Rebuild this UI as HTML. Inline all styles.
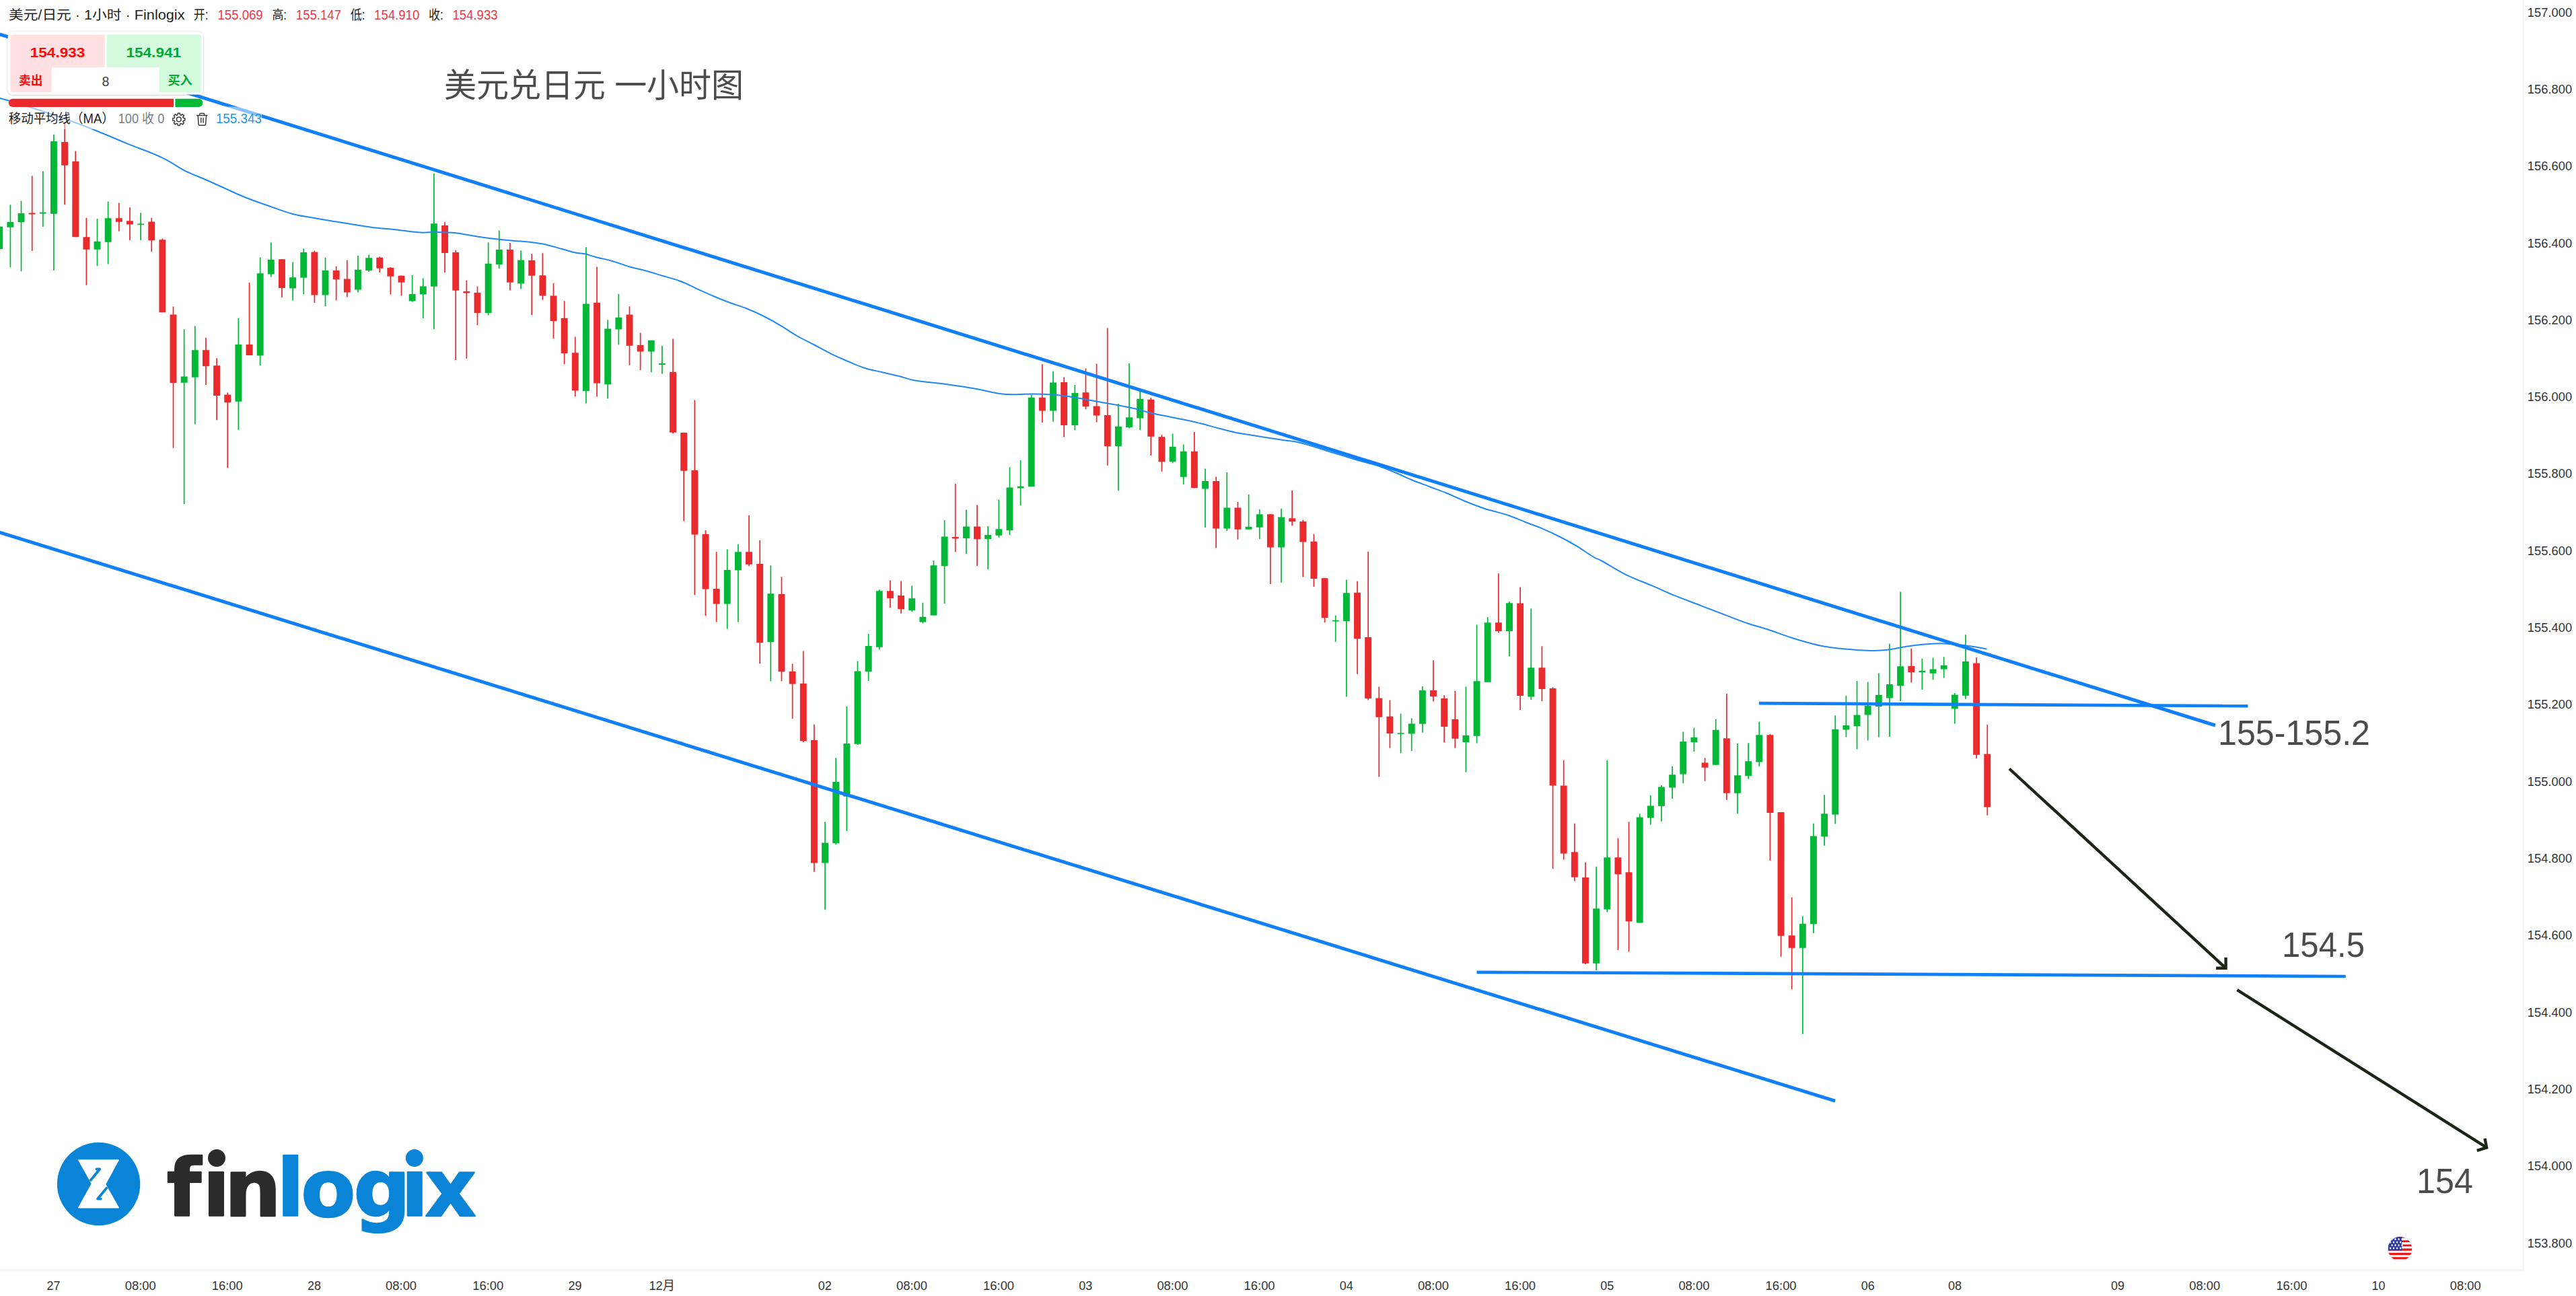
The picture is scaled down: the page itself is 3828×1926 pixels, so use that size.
<!DOCTYPE html>
<html lang="zh"><head><meta charset="utf-8"><title>美元/日元 1小时 Finlogix</title>
<style>html,body{margin:0;padding:0;background:#fff;}body{width:3828px;height:1926px;overflow:hidden;}svg{display:block;}text{font-family:"Liberation Sans","Noto Sans CJK SC",sans-serif;}</style></head><body>
<svg width="3828" height="1926" viewBox="0 0 3828 1926">
<rect width="3828" height="1926" fill="#fff"/>
<rect x="3748.7" y="0" width="2.2" height="1888" fill="#f3f3f4"/>
<rect x="0" y="1886" width="3751" height="2.4" fill="#f3f3f4"/>
<g><rect x="-1.61" y="320.00" width="1.7" height="65.00" fill="#02b836"/><rect x="14.53" y="304.25" width="1.7" height="93.25" fill="#02b836"/><rect x="30.67" y="298.50" width="1.7" height="104.75" fill="#02b836"/><rect x="46.82" y="261.50" width="1.7" height="111.50" fill="#ea2a2d"/><rect x="62.96" y="254.50" width="1.7" height="82.50" fill="#02b836"/><rect x="79.10" y="200.00" width="1.7" height="202.00" fill="#02b836"/><rect x="95.24" y="182.00" width="1.7" height="122.25" fill="#ea2a2d"/><rect x="111.38" y="224.50" width="1.7" height="127.75" fill="#ea2a2d"/><rect x="127.53" y="323.75" width="1.7" height="100.00" fill="#ea2a2d"/><rect x="143.67" y="325.00" width="1.7" height="70.25" fill="#02b836"/><rect x="159.81" y="299.50" width="1.7" height="93.00" fill="#02b836"/><rect x="175.95" y="301.50" width="1.7" height="42.25" fill="#ea2a2d"/><rect x="192.09" y="308.25" width="1.7" height="48.75" fill="#ea2a2d"/><rect x="208.24" y="316.25" width="1.7" height="40.75" fill="#02b836"/><rect x="224.38" y="323.75" width="1.7" height="50.25" fill="#ea2a2d"/><rect x="240.52" y="354.50" width="1.7" height="109.75" fill="#ea2a2d"/><rect x="256.66" y="455.50" width="1.7" height="210.25" fill="#ea2a2d"/><rect x="272.80" y="489.25" width="1.7" height="259.75" fill="#02b836"/><rect x="288.95" y="484.50" width="1.7" height="146.00" fill="#02b836"/><rect x="305.09" y="501.75" width="1.7" height="70.25" fill="#ea2a2d"/><rect x="321.23" y="532.25" width="1.7" height="92.00" fill="#ea2a2d"/><rect x="337.37" y="583.50" width="1.7" height="112.00" fill="#ea2a2d"/><rect x="353.51" y="472.75" width="1.7" height="166.00" fill="#02b836"/><rect x="369.66" y="420.00" width="1.7" height="108.00" fill="#ea2a2d"/><rect x="385.80" y="382.50" width="1.7" height="160.75" fill="#02b836"/><rect x="401.94" y="360.25" width="1.7" height="51.50" fill="#02b836"/><rect x="418.08" y="385.00" width="1.7" height="57.00" fill="#ea2a2d"/><rect x="434.22" y="389.50" width="1.7" height="57.00" fill="#02b836"/><rect x="450.37" y="369.50" width="1.7" height="68.00" fill="#02b836"/><rect x="466.51" y="372.50" width="1.7" height="77.50" fill="#ea2a2d"/><rect x="482.65" y="382.75" width="1.7" height="72.50" fill="#02b836"/><rect x="498.79" y="395.75" width="1.7" height="50.50" fill="#ea2a2d"/><rect x="514.93" y="386.50" width="1.7" height="55.00" fill="#ea2a2d"/><rect x="531.08" y="380.00" width="1.7" height="54.50" fill="#02b836"/><rect x="547.22" y="378.50" width="1.7" height="25.25" fill="#02b836"/><rect x="563.36" y="381.50" width="1.7" height="23.50" fill="#ea2a2d"/><rect x="579.50" y="397.00" width="1.7" height="40.75" fill="#ea2a2d"/><rect x="595.64" y="409.50" width="1.7" height="30.00" fill="#ea2a2d"/><rect x="611.79" y="409.00" width="1.7" height="39.75" fill="#02b836"/><rect x="627.93" y="413.50" width="1.7" height="59.50" fill="#02b836"/><rect x="644.07" y="258.00" width="1.7" height="231.00" fill="#02b836"/><rect x="660.21" y="330.00" width="1.7" height="75.00" fill="#ea2a2d"/><rect x="676.35" y="371.75" width="1.7" height="163.25" fill="#ea2a2d"/><rect x="692.50" y="416.50" width="1.7" height="116.50" fill="#ea2a2d"/><rect x="708.64" y="425.50" width="1.7" height="57.75" fill="#ea2a2d"/><rect x="724.78" y="360.25" width="1.7" height="108.25" fill="#02b836"/><rect x="740.92" y="342.50" width="1.7" height="56.75" fill="#02b836"/><rect x="757.06" y="361.00" width="1.7" height="70.50" fill="#ea2a2d"/><rect x="773.21" y="372.25" width="1.7" height="57.25" fill="#02b836"/><rect x="789.35" y="377.25" width="1.7" height="91.00" fill="#ea2a2d"/><rect x="805.49" y="376.25" width="1.7" height="69.25" fill="#ea2a2d"/><rect x="821.63" y="420.75" width="1.7" height="82.50" fill="#ea2a2d"/><rect x="837.77" y="447.25" width="1.7" height="93.75" fill="#ea2a2d"/><rect x="853.92" y="500.50" width="1.7" height="88.75" fill="#ea2a2d"/><rect x="870.06" y="367.25" width="1.7" height="232.25" fill="#02b836"/><rect x="886.20" y="396.50" width="1.7" height="193.00" fill="#ea2a2d"/><rect x="902.34" y="475.25" width="1.7" height="117.25" fill="#02b836"/><rect x="918.48" y="437.00" width="1.7" height="75.25" fill="#02b836"/><rect x="934.63" y="455.25" width="1.7" height="87.50" fill="#ea2a2d"/><rect x="950.77" y="494.50" width="1.7" height="55.50" fill="#ea2a2d"/><rect x="966.91" y="505.75" width="1.7" height="47.50" fill="#02b836"/><rect x="983.05" y="514.00" width="1.7" height="41.50" fill="#02b836"/><rect x="999.19" y="503.50" width="1.7" height="141.00" fill="#ea2a2d"/><rect x="1015.34" y="642.75" width="1.7" height="131.75" fill="#ea2a2d"/><rect x="1031.48" y="594.50" width="1.7" height="289.75" fill="#ea2a2d"/><rect x="1047.62" y="788.00" width="1.7" height="127.00" fill="#ea2a2d"/><rect x="1063.76" y="820.00" width="1.7" height="104.50" fill="#ea2a2d"/><rect x="1079.90" y="816.25" width="1.7" height="118.25" fill="#02b836"/><rect x="1096.05" y="808.75" width="1.7" height="115.75" fill="#02b836"/><rect x="1112.19" y="765.75" width="1.7" height="75.50" fill="#ea2a2d"/><rect x="1128.33" y="803.00" width="1.7" height="183.25" fill="#ea2a2d"/><rect x="1144.47" y="840.25" width="1.7" height="172.25" fill="#02b836"/><rect x="1160.61" y="857.25" width="1.7" height="155.25" fill="#ea2a2d"/><rect x="1176.76" y="986.25" width="1.7" height="82.00" fill="#ea2a2d"/><rect x="1192.90" y="967.50" width="1.7" height="135.50" fill="#ea2a2d"/><rect x="1209.04" y="1076.50" width="1.7" height="219.25" fill="#ea2a2d"/><rect x="1225.18" y="1221.25" width="1.7" height="130.50" fill="#02b836"/><rect x="1241.32" y="1126.25" width="1.7" height="128.75" fill="#02b836"/><rect x="1257.47" y="1050.00" width="1.7" height="185.00" fill="#02b836"/><rect x="1273.61" y="982.50" width="1.7" height="124.50" fill="#02b836"/><rect x="1289.75" y="942.00" width="1.7" height="70.00" fill="#02b836"/><rect x="1305.89" y="876.25" width="1.7" height="89.25" fill="#02b836"/><rect x="1322.03" y="862.50" width="1.7" height="40.50" fill="#ea2a2d"/><rect x="1338.18" y="863.50" width="1.7" height="48.25" fill="#ea2a2d"/><rect x="1354.32" y="870.50" width="1.7" height="38.50" fill="#02b836"/><rect x="1370.46" y="895.75" width="1.7" height="30.50" fill="#02b836"/><rect x="1386.60" y="833.00" width="1.7" height="81.50" fill="#02b836"/><rect x="1402.74" y="773.00" width="1.7" height="124.00" fill="#02b836"/><rect x="1418.89" y="718.75" width="1.7" height="101.75" fill="#ea2a2d"/><rect x="1435.03" y="757.50" width="1.7" height="65.50" fill="#02b836"/><rect x="1451.17" y="750.50" width="1.7" height="90.75" fill="#ea2a2d"/><rect x="1467.31" y="782.00" width="1.7" height="64.00" fill="#02b836"/><rect x="1483.45" y="742.50" width="1.7" height="56.25" fill="#02b836"/><rect x="1499.60" y="694.25" width="1.7" height="100.75" fill="#02b836"/><rect x="1515.74" y="684.00" width="1.7" height="67.25" fill="#02b836"/><rect x="1531.88" y="586.25" width="1.7" height="137.00" fill="#02b836"/><rect x="1548.02" y="541.25" width="1.7" height="86.75" fill="#ea2a2d"/><rect x="1564.16" y="551.75" width="1.7" height="75.00" fill="#02b836"/><rect x="1580.31" y="560.50" width="1.7" height="89.00" fill="#ea2a2d"/><rect x="1596.45" y="572.00" width="1.7" height="67.25" fill="#02b836"/><rect x="1612.59" y="547.50" width="1.7" height="60.75" fill="#ea2a2d"/><rect x="1628.73" y="540.50" width="1.7" height="87.00" fill="#ea2a2d"/><rect x="1644.87" y="487.50" width="1.7" height="204.25" fill="#ea2a2d"/><rect x="1661.02" y="600.00" width="1.7" height="129.25" fill="#02b836"/><rect x="1677.16" y="540.00" width="1.7" height="96.50" fill="#02b836"/><rect x="1693.30" y="580.00" width="1.7" height="59.25" fill="#02b836"/><rect x="1709.44" y="591.25" width="1.7" height="85.75" fill="#ea2a2d"/><rect x="1725.58" y="646.25" width="1.7" height="54.50" fill="#ea2a2d"/><rect x="1741.73" y="644.50" width="1.7" height="43.75" fill="#02b836"/><rect x="1757.87" y="660.50" width="1.7" height="59.50" fill="#02b836"/><rect x="1774.01" y="642.00" width="1.7" height="83.75" fill="#ea2a2d"/><rect x="1790.15" y="696.50" width="1.7" height="87.50" fill="#02b836"/><rect x="1806.29" y="708.50" width="1.7" height="105.75" fill="#ea2a2d"/><rect x="1822.44" y="702.00" width="1.7" height="87.00" fill="#02b836"/><rect x="1838.58" y="746.00" width="1.7" height="55.75" fill="#ea2a2d"/><rect x="1854.72" y="735.00" width="1.7" height="52.00" fill="#02b836"/><rect x="1870.86" y="757.00" width="1.7" height="44.25" fill="#02b836"/><rect x="1887.00" y="764.00" width="1.7" height="104.00" fill="#ea2a2d"/><rect x="1903.15" y="755.75" width="1.7" height="110.00" fill="#02b836"/><rect x="1919.29" y="728.75" width="1.7" height="52.50" fill="#ea2a2d"/><rect x="1935.43" y="772.50" width="1.7" height="85.00" fill="#ea2a2d"/><rect x="1951.57" y="793.75" width="1.7" height="78.25" fill="#ea2a2d"/><rect x="1967.71" y="859.00" width="1.7" height="66.00" fill="#ea2a2d"/><rect x="1983.86" y="914.50" width="1.7" height="39.25" fill="#02b836"/><rect x="2000.00" y="861.50" width="1.7" height="174.00" fill="#02b836"/><rect x="2016.14" y="863.75" width="1.7" height="138.00" fill="#ea2a2d"/><rect x="2032.28" y="819.75" width="1.7" height="220.75" fill="#ea2a2d"/><rect x="2048.42" y="1020.50" width="1.7" height="134.00" fill="#ea2a2d"/><rect x="2064.57" y="1040.50" width="1.7" height="71.25" fill="#ea2a2d"/><rect x="2080.71" y="1060.50" width="1.7" height="58.75" fill="#02b836"/><rect x="2096.85" y="1067.50" width="1.7" height="48.50" fill="#02b836"/><rect x="2112.99" y="1020.00" width="1.7" height="68.75" fill="#02b836"/><rect x="2129.13" y="981.25" width="1.7" height="61.25" fill="#ea2a2d"/><rect x="2145.28" y="1033.25" width="1.7" height="70.25" fill="#ea2a2d"/><rect x="2161.42" y="1026.75" width="1.7" height="85.00" fill="#ea2a2d"/><rect x="2177.56" y="1020.50" width="1.7" height="127.00" fill="#02b836"/><rect x="2193.70" y="928.25" width="1.7" height="176.25" fill="#02b836"/><rect x="2209.84" y="917.00" width="1.7" height="96.75" fill="#02b836"/><rect x="2225.99" y="852.25" width="1.7" height="88.25" fill="#ea2a2d"/><rect x="2242.13" y="894.00" width="1.7" height="81.50" fill="#02b836"/><rect x="2258.27" y="872.50" width="1.7" height="182.50" fill="#ea2a2d"/><rect x="2274.41" y="904.25" width="1.7" height="135.75" fill="#02b836"/><rect x="2290.55" y="960.25" width="1.7" height="81.75" fill="#ea2a2d"/><rect x="2306.70" y="1021.25" width="1.7" height="270.00" fill="#ea2a2d"/><rect x="2322.84" y="1129.75" width="1.7" height="147.75" fill="#ea2a2d"/><rect x="2338.98" y="1223.75" width="1.7" height="85.75" fill="#ea2a2d"/><rect x="2355.12" y="1281.50" width="1.7" height="151.50" fill="#ea2a2d"/><rect x="2371.26" y="1288.25" width="1.7" height="153.75" fill="#02b836"/><rect x="2387.41" y="1130.00" width="1.7" height="225.50" fill="#02b836"/><rect x="2403.55" y="1245.50" width="1.7" height="166.50" fill="#ea2a2d"/><rect x="2419.69" y="1221.25" width="1.7" height="193.00" fill="#ea2a2d"/><rect x="2435.83" y="1209.50" width="1.7" height="162.00" fill="#02b836"/><rect x="2451.97" y="1182.00" width="1.7" height="43.50" fill="#02b836"/><rect x="2468.12" y="1167.00" width="1.7" height="53.75" fill="#02b836"/><rect x="2484.26" y="1138.75" width="1.7" height="48.25" fill="#02b836"/><rect x="2500.40" y="1087.50" width="1.7" height="76.75" fill="#02b836"/><rect x="2516.54" y="1081.75" width="1.7" height="35.25" fill="#02b836"/><rect x="2532.68" y="1126.25" width="1.7" height="34.50" fill="#ea2a2d"/><rect x="2548.83" y="1068.75" width="1.7" height="68.00" fill="#02b836"/><rect x="2564.97" y="1031.00" width="1.7" height="157.75" fill="#ea2a2d"/><rect x="2581.11" y="1105.00" width="1.7" height="104.25" fill="#02b836"/><rect x="2597.25" y="1104.25" width="1.7" height="53.25" fill="#02b836"/><rect x="2613.39" y="1072.50" width="1.7" height="66.25" fill="#02b836"/><rect x="2629.54" y="1090.75" width="1.7" height="188.25" fill="#ea2a2d"/><rect x="2645.68" y="1207.00" width="1.7" height="214.75" fill="#ea2a2d"/><rect x="2661.82" y="1333.50" width="1.7" height="136.75" fill="#ea2a2d"/><rect x="2677.96" y="1361.50" width="1.7" height="175.25" fill="#02b836"/><rect x="2694.10" y="1223.75" width="1.7" height="163.00" fill="#02b836"/><rect x="2710.25" y="1181.25" width="1.7" height="75.50" fill="#02b836"/><rect x="2726.39" y="1063.25" width="1.7" height="161.25" fill="#02b836"/><rect x="2742.53" y="1033.75" width="1.7" height="61.75" fill="#02b836"/><rect x="2758.67" y="1012.00" width="1.7" height="101.50" fill="#02b836"/><rect x="2774.81" y="1013.50" width="1.7" height="87.00" fill="#02b836"/><rect x="2790.96" y="1000.50" width="1.7" height="95.00" fill="#02b836"/><rect x="2807.10" y="956.75" width="1.7" height="138.25" fill="#02b836"/><rect x="2823.24" y="879.50" width="1.7" height="162.50" fill="#02b836"/><rect x="2839.38" y="963.75" width="1.7" height="50.50" fill="#ea2a2d"/><rect x="2855.52" y="978.75" width="1.7" height="46.25" fill="#02b836"/><rect x="2871.67" y="977.50" width="1.7" height="32.75" fill="#02b836"/><rect x="2887.81" y="976.25" width="1.7" height="31.25" fill="#02b836"/><rect x="2903.95" y="1030.00" width="1.7" height="45.50" fill="#02b836"/><rect x="2920.09" y="943.25" width="1.7" height="95.50" fill="#02b836"/><rect x="2936.23" y="977.00" width="1.7" height="150.00" fill="#ea2a2d"/><rect x="2952.38" y="1077.00" width="1.7" height="134.75" fill="#ea2a2d"/></g>
<g><rect x="-5.71" y="336.75" width="9.9" height="33.25" fill="#02b836"/><rect x="10.43" y="330.00" width="9.9" height="7.75" fill="#02b836"/><rect x="26.57" y="317.00" width="9.9" height="13.25" fill="#02b836"/><rect x="42.72" y="316.50" width="9.9" height="2.00" fill="#ea2a2d"/><rect x="58.86" y="315.50" width="9.9" height="2.00" fill="#02b836"/><rect x="75.00" y="210.00" width="9.9" height="107.75" fill="#02b836"/><rect x="91.14" y="211.00" width="9.9" height="34.75" fill="#ea2a2d"/><rect x="107.28" y="239.75" width="9.9" height="112.50" fill="#ea2a2d"/><rect x="123.43" y="352.25" width="9.9" height="18.50" fill="#ea2a2d"/><rect x="139.57" y="358.75" width="9.9" height="12.00" fill="#02b836"/><rect x="155.71" y="324.25" width="9.9" height="35.50" fill="#02b836"/><rect x="171.85" y="324.25" width="9.9" height="5.50" fill="#ea2a2d"/><rect x="187.99" y="328.25" width="9.9" height="5.25" fill="#ea2a2d"/><rect x="204.14" y="332.50" width="9.9" height="1.75" fill="#02b836"/><rect x="220.28" y="329.50" width="9.9" height="27.75" fill="#ea2a2d"/><rect x="236.42" y="356.25" width="9.9" height="108.00" fill="#ea2a2d"/><rect x="252.56" y="467.50" width="9.9" height="101.50" fill="#ea2a2d"/><rect x="268.70" y="559.50" width="9.9" height="9.25" fill="#02b836"/><rect x="284.85" y="520.25" width="9.9" height="40.50" fill="#02b836"/><rect x="300.99" y="520.25" width="9.9" height="24.00" fill="#ea2a2d"/><rect x="317.13" y="543.25" width="9.9" height="44.75" fill="#ea2a2d"/><rect x="333.27" y="586.50" width="9.9" height="11.75" fill="#ea2a2d"/><rect x="349.41" y="512.00" width="9.9" height="84.75" fill="#02b836"/><rect x="365.56" y="512.00" width="9.9" height="16.00" fill="#ea2a2d"/><rect x="381.70" y="406.25" width="9.9" height="122.25" fill="#02b836"/><rect x="397.84" y="386.00" width="9.9" height="21.50" fill="#02b836"/><rect x="413.98" y="385.25" width="9.9" height="42.75" fill="#ea2a2d"/><rect x="430.12" y="412.25" width="9.9" height="16.25" fill="#02b836"/><rect x="446.27" y="375.00" width="9.9" height="37.75" fill="#02b836"/><rect x="462.41" y="374.50" width="9.9" height="64.00" fill="#ea2a2d"/><rect x="478.55" y="402.00" width="9.9" height="36.50" fill="#02b836"/><rect x="494.69" y="402.00" width="9.9" height="13.25" fill="#ea2a2d"/><rect x="510.83" y="414.50" width="9.9" height="20.00" fill="#ea2a2d"/><rect x="526.98" y="400.75" width="9.9" height="29.75" fill="#02b836"/><rect x="543.12" y="383.25" width="9.9" height="18.75" fill="#02b836"/><rect x="559.26" y="382.75" width="9.9" height="16.00" fill="#ea2a2d"/><rect x="575.40" y="398.00" width="9.9" height="12.75" fill="#ea2a2d"/><rect x="591.54" y="409.75" width="9.9" height="10.00" fill="#ea2a2d"/><rect x="607.69" y="437.00" width="9.9" height="10.50" fill="#02b836"/><rect x="623.83" y="425.50" width="9.9" height="12.00" fill="#02b836"/><rect x="639.97" y="332.25" width="9.9" height="93.50" fill="#02b836"/><rect x="656.11" y="335.00" width="9.9" height="41.00" fill="#ea2a2d"/><rect x="672.25" y="375.00" width="9.9" height="56.75" fill="#ea2a2d"/><rect x="688.40" y="433.00" width="9.9" height="2.50" fill="#ea2a2d"/><rect x="704.54" y="435.00" width="9.9" height="30.00" fill="#ea2a2d"/><rect x="720.68" y="391.75" width="9.9" height="73.25" fill="#02b836"/><rect x="736.82" y="371.00" width="9.9" height="22.00" fill="#02b836"/><rect x="752.96" y="371.00" width="9.9" height="48.75" fill="#ea2a2d"/><rect x="769.11" y="386.50" width="9.9" height="35.00" fill="#02b836"/><rect x="785.25" y="387.00" width="9.9" height="22.75" fill="#ea2a2d"/><rect x="801.39" y="409.25" width="9.9" height="30.25" fill="#ea2a2d"/><rect x="817.53" y="439.50" width="9.9" height="37.50" fill="#ea2a2d"/><rect x="833.67" y="472.75" width="9.9" height="52.25" fill="#ea2a2d"/><rect x="849.82" y="524.25" width="9.9" height="56.25" fill="#ea2a2d"/><rect x="865.96" y="451.50" width="9.9" height="129.50" fill="#02b836"/><rect x="882.10" y="449.75" width="9.9" height="119.75" fill="#ea2a2d"/><rect x="898.24" y="488.50" width="9.9" height="82.75" fill="#02b836"/><rect x="914.38" y="471.75" width="9.9" height="17.75" fill="#02b836"/><rect x="930.53" y="467.50" width="9.9" height="46.25" fill="#ea2a2d"/><rect x="946.67" y="512.75" width="9.9" height="9.75" fill="#ea2a2d"/><rect x="962.81" y="505.75" width="9.9" height="16.75" fill="#02b836"/><rect x="978.95" y="540.00" width="9.9" height="2.00" fill="#02b836"/><rect x="995.09" y="552.75" width="9.9" height="90.00" fill="#ea2a2d"/><rect x="1011.24" y="643.00" width="9.9" height="56.75" fill="#ea2a2d"/><rect x="1027.38" y="698.75" width="9.9" height="95.75" fill="#ea2a2d"/><rect x="1043.52" y="793.75" width="9.9" height="81.75" fill="#ea2a2d"/><rect x="1059.66" y="875.00" width="9.9" height="22.50" fill="#ea2a2d"/><rect x="1075.80" y="847.00" width="9.9" height="50.50" fill="#02b836"/><rect x="1091.95" y="820.25" width="9.9" height="27.25" fill="#02b836"/><rect x="1108.09" y="820.25" width="9.9" height="18.50" fill="#ea2a2d"/><rect x="1124.23" y="838.00" width="9.9" height="117.00" fill="#ea2a2d"/><rect x="1140.37" y="882.25" width="9.9" height="72.00" fill="#02b836"/><rect x="1156.51" y="882.75" width="9.9" height="115.50" fill="#ea2a2d"/><rect x="1172.66" y="997.75" width="9.9" height="18.75" fill="#ea2a2d"/><rect x="1188.80" y="1015.75" width="9.9" height="85.50" fill="#ea2a2d"/><rect x="1204.94" y="1100.00" width="9.9" height="182.50" fill="#ea2a2d"/><rect x="1221.08" y="1252.50" width="9.9" height="30.00" fill="#02b836"/><rect x="1237.22" y="1162.00" width="9.9" height="91.00" fill="#02b836"/><rect x="1253.37" y="1105.00" width="9.9" height="78.75" fill="#02b836"/><rect x="1269.51" y="997.50" width="9.9" height="108.25" fill="#02b836"/><rect x="1285.65" y="960.00" width="9.9" height="38.25" fill="#02b836"/><rect x="1301.79" y="878.25" width="9.9" height="83.50" fill="#02b836"/><rect x="1317.93" y="878.25" width="9.9" height="10.75" fill="#ea2a2d"/><rect x="1334.08" y="885.00" width="9.9" height="20.25" fill="#ea2a2d"/><rect x="1350.22" y="889.25" width="9.9" height="17.75" fill="#02b836"/><rect x="1366.36" y="916.75" width="9.9" height="7.75" fill="#02b836"/><rect x="1382.50" y="840.25" width="9.9" height="74.25" fill="#02b836"/><rect x="1398.64" y="797.50" width="9.9" height="43.75" fill="#02b836"/><rect x="1414.79" y="798.00" width="9.9" height="2.50" fill="#ea2a2d"/><rect x="1430.93" y="782.50" width="9.9" height="17.50" fill="#02b836"/><rect x="1447.07" y="782.50" width="9.9" height="18.75" fill="#ea2a2d"/><rect x="1463.21" y="795.00" width="9.9" height="6.00" fill="#02b836"/><rect x="1479.35" y="786.25" width="9.9" height="9.50" fill="#02b836"/><rect x="1495.50" y="724.50" width="9.9" height="63.75" fill="#02b836"/><rect x="1511.64" y="722.75" width="9.9" height="2.75" fill="#02b836"/><rect x="1527.78" y="590.75" width="9.9" height="132.50" fill="#02b836"/><rect x="1543.92" y="590.75" width="9.9" height="19.75" fill="#ea2a2d"/><rect x="1560.06" y="568.50" width="9.9" height="42.00" fill="#02b836"/><rect x="1576.21" y="568.00" width="9.9" height="64.00" fill="#ea2a2d"/><rect x="1592.35" y="584.00" width="9.9" height="48.00" fill="#02b836"/><rect x="1608.49" y="583.25" width="9.9" height="21.00" fill="#ea2a2d"/><rect x="1624.63" y="603.50" width="9.9" height="14.00" fill="#ea2a2d"/><rect x="1640.77" y="617.00" width="9.9" height="46.25" fill="#ea2a2d"/><rect x="1656.92" y="633.75" width="9.9" height="29.50" fill="#02b836"/><rect x="1673.06" y="620.25" width="9.9" height="14.75" fill="#02b836"/><rect x="1689.20" y="592.75" width="9.9" height="28.75" fill="#02b836"/><rect x="1705.34" y="593.75" width="9.9" height="55.00" fill="#ea2a2d"/><rect x="1721.48" y="649.25" width="9.9" height="37.00" fill="#ea2a2d"/><rect x="1737.63" y="664.00" width="9.9" height="22.25" fill="#02b836"/><rect x="1753.77" y="670.75" width="9.9" height="38.00" fill="#02b836"/><rect x="1769.91" y="670.75" width="9.9" height="54.25" fill="#ea2a2d"/><rect x="1786.05" y="715.00" width="9.9" height="11.50" fill="#02b836"/><rect x="1802.19" y="715.00" width="9.9" height="70.50" fill="#ea2a2d"/><rect x="1818.34" y="754.50" width="9.9" height="31.00" fill="#02b836"/><rect x="1834.48" y="754.50" width="9.9" height="32.25" fill="#ea2a2d"/><rect x="1850.62" y="782.75" width="9.9" height="4.00" fill="#02b836"/><rect x="1866.76" y="764.25" width="9.9" height="19.50" fill="#02b836"/><rect x="1882.90" y="764.25" width="9.9" height="49.25" fill="#ea2a2d"/><rect x="1899.05" y="768.50" width="9.9" height="45.00" fill="#02b836"/><rect x="1915.19" y="770.25" width="9.9" height="4.75" fill="#ea2a2d"/><rect x="1931.33" y="775.00" width="9.9" height="30.50" fill="#ea2a2d"/><rect x="1947.47" y="804.75" width="9.9" height="55.25" fill="#ea2a2d"/><rect x="1963.61" y="859.25" width="9.9" height="59.00" fill="#ea2a2d"/><rect x="1979.76" y="921.75" width="9.9" height="1.75" fill="#02b836"/><rect x="1995.90" y="881.25" width="9.9" height="41.75" fill="#02b836"/><rect x="2012.04" y="880.75" width="9.9" height="68.50" fill="#ea2a2d"/><rect x="2028.18" y="947.00" width="9.9" height="91.00" fill="#ea2a2d"/><rect x="2044.32" y="1037.50" width="9.9" height="28.25" fill="#ea2a2d"/><rect x="2060.47" y="1064.75" width="9.9" height="25.25" fill="#ea2a2d"/><rect x="2076.61" y="1089.25" width="9.9" height="1.60" fill="#02b836"/><rect x="2092.75" y="1075.50" width="9.9" height="15.00" fill="#02b836"/><rect x="2108.89" y="1026.00" width="9.9" height="49.75" fill="#02b836"/><rect x="2125.03" y="1026.00" width="9.9" height="9.00" fill="#ea2a2d"/><rect x="2141.18" y="1038.00" width="9.9" height="42.00" fill="#ea2a2d"/><rect x="2157.32" y="1069.00" width="9.9" height="28.75" fill="#ea2a2d"/><rect x="2173.46" y="1093.00" width="9.9" height="10.00" fill="#02b836"/><rect x="2189.60" y="1012.25" width="9.9" height="81.50" fill="#02b836"/><rect x="2205.74" y="925.25" width="9.9" height="88.50" fill="#02b836"/><rect x="2221.89" y="925.25" width="9.9" height="12.75" fill="#ea2a2d"/><rect x="2238.03" y="896.25" width="9.9" height="41.75" fill="#02b836"/><rect x="2254.17" y="896.50" width="9.9" height="137.50" fill="#ea2a2d"/><rect x="2270.31" y="992.25" width="9.9" height="43.25" fill="#02b836"/><rect x="2286.45" y="992.25" width="9.9" height="31.75" fill="#ea2a2d"/><rect x="2302.60" y="1023.00" width="9.9" height="144.50" fill="#ea2a2d"/><rect x="2318.74" y="1167.50" width="9.9" height="101.00" fill="#ea2a2d"/><rect x="2334.88" y="1266.25" width="9.9" height="37.50" fill="#ea2a2d"/><rect x="2351.02" y="1304.00" width="9.9" height="127.75" fill="#ea2a2d"/><rect x="2367.16" y="1350.25" width="9.9" height="81.50" fill="#02b836"/><rect x="2383.31" y="1274.25" width="9.9" height="77.25" fill="#02b836"/><rect x="2399.45" y="1274.25" width="9.9" height="25.00" fill="#ea2a2d"/><rect x="2415.59" y="1296.25" width="9.9" height="73.00" fill="#ea2a2d"/><rect x="2431.73" y="1214.50" width="9.9" height="157.00" fill="#02b836"/><rect x="2447.87" y="1197.50" width="9.9" height="18.00" fill="#02b836"/><rect x="2464.02" y="1169.50" width="9.9" height="28.50" fill="#02b836"/><rect x="2480.16" y="1151.25" width="9.9" height="19.25" fill="#02b836"/><rect x="2496.30" y="1102.00" width="9.9" height="48.50" fill="#02b836"/><rect x="2512.44" y="1095.75" width="9.9" height="7.25" fill="#02b836"/><rect x="2528.58" y="1133.50" width="9.9" height="7.25" fill="#ea2a2d"/><rect x="2544.73" y="1084.75" width="9.9" height="52.00" fill="#02b836"/><rect x="2560.87" y="1097.25" width="9.9" height="81.50" fill="#ea2a2d"/><rect x="2577.01" y="1152.25" width="9.9" height="26.50" fill="#02b836"/><rect x="2593.15" y="1131.25" width="9.9" height="21.75" fill="#02b836"/><rect x="2609.29" y="1092.25" width="9.9" height="40.25" fill="#02b836"/><rect x="2625.44" y="1092.25" width="9.9" height="115.75" fill="#ea2a2d"/><rect x="2641.58" y="1207.00" width="9.9" height="183.75" fill="#ea2a2d"/><rect x="2657.72" y="1390.25" width="9.9" height="18.50" fill="#ea2a2d"/><rect x="2673.86" y="1372.75" width="9.9" height="36.00" fill="#02b836"/><rect x="2690.00" y="1242.50" width="9.9" height="130.75" fill="#02b836"/><rect x="2706.15" y="1209.25" width="9.9" height="34.00" fill="#02b836"/><rect x="2722.29" y="1084.00" width="9.9" height="126.50" fill="#02b836"/><rect x="2738.43" y="1078.00" width="9.9" height="6.50" fill="#02b836"/><rect x="2754.57" y="1062.50" width="9.9" height="16.75" fill="#02b836"/><rect x="2770.71" y="1048.75" width="9.9" height="13.75" fill="#02b836"/><rect x="2786.86" y="1032.75" width="9.9" height="17.25" fill="#02b836"/><rect x="2803.00" y="1017.00" width="9.9" height="20.50" fill="#02b836"/><rect x="2819.14" y="990.25" width="9.9" height="28.75" fill="#02b836"/><rect x="2835.28" y="989.75" width="9.9" height="9.25" fill="#ea2a2d"/><rect x="2851.42" y="996.75" width="9.9" height="2.25" fill="#02b836"/><rect x="2867.57" y="994.50" width="9.9" height="6.25" fill="#02b836"/><rect x="2883.71" y="988.75" width="9.9" height="5.75" fill="#02b836"/><rect x="2899.85" y="1032.50" width="9.9" height="20.75" fill="#02b836"/><rect x="2915.99" y="983.00" width="9.9" height="50.75" fill="#02b836"/><rect x="2932.13" y="985.50" width="9.9" height="136.25" fill="#ea2a2d"/><rect x="2948.28" y="1120.50" width="9.9" height="79.00" fill="#ea2a2d"/></g>
<path d="M-10.0,143.0 C-8.3,143.5 -9.8,143.1 0.0,146.0 C9.8,148.9 31.7,155.0 49.0,160.6 C66.3,166.2 88.0,173.7 104.0,179.4 C120.0,185.1 130.7,189.3 145.0,195.0 C159.3,200.7 174.2,207.3 190.0,213.8 C205.8,220.2 225.8,227.1 240.0,233.8 C254.2,240.4 262.9,247.7 275.0,253.8 C287.1,259.8 297.9,263.5 312.5,270.0 C327.1,276.5 347.9,286.5 362.5,292.5 C377.1,298.5 387.9,302.0 400.0,306.2 C412.1,310.5 424.6,315.2 435.0,318.0 C445.4,320.8 451.7,321.3 462.5,323.2 C473.3,325.2 485.4,327.1 500.0,329.5 C514.6,331.9 535.4,335.5 550.0,337.5 C564.6,339.5 575.0,339.9 587.5,341.2 C600.0,342.6 615.4,344.9 625.0,345.5 C634.6,346.1 636.2,344.9 645.0,345.0 C653.8,345.1 666.7,345.1 677.5,346.2 C688.3,347.4 700.4,350.3 710.0,351.8 C719.6,353.2 726.7,354.0 735.0,355.0 C743.3,356.0 751.7,356.8 760.0,357.5 C768.3,358.2 776.7,358.5 785.0,359.5 C793.3,360.5 801.7,361.5 810.0,363.2 C818.3,365.0 827.5,368.0 835.0,370.0 C842.5,372.0 849.2,374.2 855.0,375.5 C860.8,376.8 865.0,376.4 870.0,377.5 C875.0,378.6 878.3,380.2 885.0,382.0 C891.7,383.8 901.7,385.6 910.0,388.0 C918.3,390.4 926.7,393.8 935.0,396.2 C943.3,398.7 951.7,400.2 960.0,402.5 C968.3,404.8 976.7,407.5 985.0,410.0 C993.3,412.5 1001.7,414.4 1010.0,417.5 C1018.3,420.6 1026.7,425.0 1035.0,428.8 C1043.3,432.5 1051.7,436.5 1060.0,440.0 C1068.3,443.5 1076.7,446.9 1085.0,450.0 C1093.3,453.1 1101.7,455.4 1110.0,458.8 C1118.3,462.1 1126.7,465.8 1135.0,470.0 C1143.3,474.2 1151.7,478.8 1160.0,483.8 C1168.3,488.7 1176.7,494.7 1185.0,499.5 C1193.3,504.3 1201.7,508.1 1210.0,512.5 C1218.3,516.9 1226.7,521.7 1235.0,525.8 C1243.3,529.8 1251.7,533.5 1260.0,537.0 C1268.3,540.5 1276.7,544.3 1285.0,547.0 C1293.3,549.7 1301.7,551.0 1310.0,553.0 C1318.3,555.0 1326.7,556.7 1335.0,558.8 C1343.3,560.8 1348.8,563.5 1360.0,565.5 C1371.2,567.5 1387.1,568.4 1402.5,570.5 C1417.9,572.6 1438.8,575.8 1452.5,578.2 C1466.2,580.7 1475.4,583.7 1485.0,585.0 C1494.6,586.3 1501.7,586.2 1510.0,586.2 C1518.3,586.3 1525.8,585.5 1535.0,585.5 C1544.2,585.5 1556.7,586.0 1565.0,586.5 C1573.3,587.0 1577.5,587.7 1585.0,588.8 C1592.5,589.8 1601.7,591.5 1610.0,593.0 C1618.3,594.5 1626.7,596.0 1635.0,597.5 C1643.3,599.0 1651.7,600.4 1660.0,602.0 C1668.3,603.6 1676.7,605.0 1685.0,607.0 C1693.3,609.0 1701.7,611.8 1710.0,613.8 C1718.3,615.7 1726.7,617.1 1735.0,618.8 C1743.3,620.4 1751.7,622.0 1760.0,623.8 C1768.3,625.5 1776.7,627.4 1785.0,629.5 C1793.3,631.6 1801.7,634.1 1810.0,636.2 C1818.3,638.4 1826.7,640.8 1835.0,642.5 C1843.3,644.2 1851.7,645.4 1860.0,646.8 C1868.3,648.1 1876.7,649.5 1885.0,650.8 C1893.3,652.0 1903.3,653.5 1910.0,654.5 C1916.7,655.5 1918.3,655.1 1925.0,656.5 C1931.7,657.9 1941.7,660.6 1950.0,663.0 C1958.3,665.4 1966.7,668.4 1975.0,671.0 C1983.3,673.6 1991.7,676.0 2000.0,678.5 C2008.3,681.0 2016.7,683.6 2025.0,686.0 C2033.3,688.4 2041.7,690.2 2050.0,693.0 C2058.3,695.8 2066.7,699.5 2075.0,703.0 C2083.3,706.5 2091.7,710.6 2100.0,714.0 C2108.3,717.4 2116.7,720.3 2125.0,723.5 C2133.3,726.7 2140.8,729.2 2150.0,733.0 C2159.2,736.8 2170.8,742.2 2180.0,746.0 C2189.2,749.8 2198.3,753.2 2205.0,755.5 C2211.7,757.8 2213.8,758.0 2220.0,759.8 C2226.2,761.5 2234.6,763.5 2242.5,766.2 C2250.4,769.0 2259.2,773.0 2267.5,776.2 C2275.8,779.5 2284.2,782.2 2292.5,785.8 C2300.8,789.3 2309.2,793.2 2317.5,797.5 C2325.8,801.8 2334.2,806.2 2342.5,811.2 C2350.8,816.2 2361.2,823.8 2367.5,827.5 C2373.8,831.2 2371.7,829.0 2380.0,833.5 C2388.3,838.0 2404.9,848.6 2417.3,854.7 C2429.7,860.8 2443.1,865.3 2454.5,870.2 C2465.9,875.1 2473.2,878.8 2485.6,883.9 C2498.0,889.0 2515.6,895.4 2529.0,900.6 C2542.4,905.8 2554.9,910.6 2566.3,914.9 C2577.7,919.2 2587.1,923.0 2597.4,926.5 C2607.8,930.0 2618.0,932.6 2628.4,936.0 C2638.8,939.4 2650.6,943.9 2660.0,947.0 C2669.4,950.1 2676.7,952.2 2685.0,954.5 C2693.3,956.8 2701.7,959.0 2710.0,960.5 C2718.3,962.0 2726.7,962.8 2735.0,963.8 C2743.3,964.7 2751.7,965.5 2760.0,966.0 C2768.3,966.5 2776.7,967.2 2785.0,967.0 C2793.3,966.8 2801.7,966.1 2810.0,965.0 C2818.3,963.9 2826.7,961.8 2835.0,960.5 C2843.3,959.2 2851.7,958.2 2860.0,957.5 C2868.3,956.8 2876.7,956.2 2885.0,956.2 C2893.3,956.3 2901.7,957.2 2910.0,958.0 C2918.3,958.8 2927.9,960.2 2935.0,961.2 C2942.1,962.3 2949.6,964.0 2952.5,964.5" fill="none" stroke="#2088f7" stroke-width="2.0" stroke-linejoin="round"/>
<line x1="-20.0" y1="44.8" x2="3292.0" y2="1078.0" stroke="#0f80fa" stroke-width="5.0" stroke-linecap="butt"/>
<line x1="-20.0" y1="785.1" x2="2727.0" y2="1636.1" stroke="#0f80fa" stroke-width="5.0" stroke-linecap="butt"/>
<line x1="2614.0" y1="1045.2" x2="3340.5" y2="1049.2" stroke="#0f80fa" stroke-width="4.7" stroke-linecap="butt"/>
<line x1="2194.5" y1="1444.8" x2="3485.8" y2="1451.0" stroke="#0f80fa" stroke-width="4.7" stroke-linecap="butt"/>
<g stroke="#1c2616" stroke-width="4.4" fill="none" stroke-linecap="butt" stroke-linejoin="miter"><line x1="2986.0" y1="1142.5" x2="3307.6" y2="1438.7"/><polyline points="3307.6,1423.1 3307.6,1438.7 3293.1,1438.7"/></g>
<g stroke="#1c2616" stroke-width="4.4" fill="none" stroke-linecap="butt" stroke-linejoin="miter"><line x1="3324.5" y1="1471.2" x2="3695.2" y2="1705.4"/><polyline points="3692.6,1691.8 3695.2,1705.4 3680.8,1709.8"/></g>
<text x="3296.0" y="1107.0" font-size="51.0" fill="#4c4c4c" textLength="226.0" lengthAdjust="spacingAndGlyphs">155-155.2</text>
<text x="3391.0" y="1422.0" font-size="51.0" fill="#4c4c4c" textLength="123.0" lengthAdjust="spacingAndGlyphs">154.5</text>
<text x="3591.0" y="1773.0" font-size="51.0" fill="#4c4c4c" textLength="84.0" lengthAdjust="spacingAndGlyphs">154</text>
<text x="660.0" y="143.5" font-size="48.5" fill="#4c4c4c" textLength="445.0" lengthAdjust="spacingAndGlyphs">美元兑日元 一小时图</text>
<text x="3755.8" y="24.6" font-size="19.0" fill="#333333" textLength="66.3" lengthAdjust="spacingAndGlyphs">157.000</text>
<text x="3755.8" y="138.9" font-size="19.0" fill="#333333" textLength="66.3" lengthAdjust="spacingAndGlyphs">156.800</text>
<text x="3755.8" y="253.2" font-size="19.0" fill="#333333" textLength="66.3" lengthAdjust="spacingAndGlyphs">156.600</text>
<text x="3755.8" y="367.5" font-size="19.0" fill="#333333" textLength="66.3" lengthAdjust="spacingAndGlyphs">156.400</text>
<text x="3755.8" y="481.8" font-size="19.0" fill="#333333" textLength="66.3" lengthAdjust="spacingAndGlyphs">156.200</text>
<text x="3755.8" y="596.1" font-size="19.0" fill="#333333" textLength="66.3" lengthAdjust="spacingAndGlyphs">156.000</text>
<text x="3755.8" y="710.4" font-size="19.0" fill="#333333" textLength="66.3" lengthAdjust="spacingAndGlyphs">155.800</text>
<text x="3755.8" y="824.7" font-size="19.0" fill="#333333" textLength="66.3" lengthAdjust="spacingAndGlyphs">155.600</text>
<text x="3755.8" y="939.0" font-size="19.0" fill="#333333" textLength="66.3" lengthAdjust="spacingAndGlyphs">155.400</text>
<text x="3755.8" y="1053.4" font-size="19.0" fill="#333333" textLength="66.3" lengthAdjust="spacingAndGlyphs">155.200</text>
<text x="3755.8" y="1167.7" font-size="19.0" fill="#333333" textLength="66.3" lengthAdjust="spacingAndGlyphs">155.000</text>
<text x="3755.8" y="1282.0" font-size="19.0" fill="#333333" textLength="66.3" lengthAdjust="spacingAndGlyphs">154.800</text>
<text x="3755.8" y="1396.3" font-size="19.0" fill="#333333" textLength="66.3" lengthAdjust="spacingAndGlyphs">154.600</text>
<text x="3755.8" y="1510.6" font-size="19.0" fill="#333333" textLength="66.3" lengthAdjust="spacingAndGlyphs">154.400</text>
<text x="3755.8" y="1624.9" font-size="19.0" fill="#333333" textLength="66.3" lengthAdjust="spacingAndGlyphs">154.200</text>
<text x="3755.8" y="1739.2" font-size="19.0" fill="#333333" textLength="66.3" lengthAdjust="spacingAndGlyphs">154.000</text>
<text x="3755.8" y="1853.5" font-size="19.0" fill="#333333" textLength="66.3" lengthAdjust="spacingAndGlyphs">153.800</text>
<text x="69.5" y="1917.0" font-size="19.0" fill="#333333" textLength="20.0" lengthAdjust="spacingAndGlyphs">27</text>
<text x="185.7" y="1917.0" font-size="19.0" fill="#333333" textLength="46.0" lengthAdjust="spacingAndGlyphs">08:00</text>
<text x="314.8" y="1917.0" font-size="19.0" fill="#333333" textLength="46.0" lengthAdjust="spacingAndGlyphs">16:00</text>
<text x="457.0" y="1917.0" font-size="19.0" fill="#333333" textLength="20.0" lengthAdjust="spacingAndGlyphs">28</text>
<text x="573.1" y="1917.0" font-size="19.0" fill="#333333" textLength="46.0" lengthAdjust="spacingAndGlyphs">08:00</text>
<text x="702.3" y="1917.0" font-size="19.0" fill="#333333" textLength="46.0" lengthAdjust="spacingAndGlyphs">16:00</text>
<text x="844.5" y="1917.0" font-size="19.0" fill="#333333" textLength="20.0" lengthAdjust="spacingAndGlyphs">29</text>
<text x="964.4" y="1917.0" font-size="19.0" fill="#333333" textLength="38.5" lengthAdjust="spacingAndGlyphs">12月</text>
<text x="1215.8" y="1917.0" font-size="19.0" fill="#333333" textLength="20.0" lengthAdjust="spacingAndGlyphs">02</text>
<text x="1332.0" y="1917.0" font-size="19.0" fill="#333333" textLength="46.0" lengthAdjust="spacingAndGlyphs">08:00</text>
<text x="1461.1" y="1917.0" font-size="19.0" fill="#333333" textLength="46.0" lengthAdjust="spacingAndGlyphs">16:00</text>
<text x="1603.3" y="1917.0" font-size="19.0" fill="#333333" textLength="20.0" lengthAdjust="spacingAndGlyphs">03</text>
<text x="1719.4" y="1917.0" font-size="19.0" fill="#333333" textLength="46.0" lengthAdjust="spacingAndGlyphs">08:00</text>
<text x="1848.6" y="1917.0" font-size="19.0" fill="#333333" textLength="46.0" lengthAdjust="spacingAndGlyphs">16:00</text>
<text x="1990.8" y="1917.0" font-size="19.0" fill="#333333" textLength="20.0" lengthAdjust="spacingAndGlyphs">04</text>
<text x="2106.9" y="1917.0" font-size="19.0" fill="#333333" textLength="46.0" lengthAdjust="spacingAndGlyphs">08:00</text>
<text x="2236.1" y="1917.0" font-size="19.0" fill="#333333" textLength="46.0" lengthAdjust="spacingAndGlyphs">16:00</text>
<text x="2378.2" y="1917.0" font-size="19.0" fill="#333333" textLength="20.0" lengthAdjust="spacingAndGlyphs">05</text>
<text x="2494.4" y="1917.0" font-size="19.0" fill="#333333" textLength="46.0" lengthAdjust="spacingAndGlyphs">08:00</text>
<text x="2623.6" y="1917.0" font-size="19.0" fill="#333333" textLength="46.0" lengthAdjust="spacingAndGlyphs">16:00</text>
<text x="2765.7" y="1917.0" font-size="19.0" fill="#333333" textLength="20.0" lengthAdjust="spacingAndGlyphs">06</text>
<text x="2894.9" y="1917.0" font-size="19.0" fill="#333333" textLength="20.0" lengthAdjust="spacingAndGlyphs">08</text>
<text x="3137.0" y="1917.0" font-size="19.0" fill="#333333" textLength="20.0" lengthAdjust="spacingAndGlyphs">09</text>
<text x="3253.2" y="1917.0" font-size="19.0" fill="#333333" textLength="46.0" lengthAdjust="spacingAndGlyphs">08:00</text>
<text x="3382.4" y="1917.0" font-size="19.0" fill="#333333" textLength="46.0" lengthAdjust="spacingAndGlyphs">16:00</text>
<text x="3524.5" y="1917.0" font-size="19.0" fill="#333333" textLength="20.0" lengthAdjust="spacingAndGlyphs">10</text>
<text x="3640.7" y="1917.0" font-size="19.0" fill="#333333" textLength="46.0" lengthAdjust="spacingAndGlyphs">08:00</text>
<text x="13.0" y="28.9" font-size="19.5" fill="#222222" textLength="261.5" lengthAdjust="spacingAndGlyphs">美元/日元 · 1小时 · Finlogix</text>
<text x="287.7" y="28.9" font-size="19.5" fill="#222222" textLength="21.7" lengthAdjust="spacingAndGlyphs">开:</text>
<text x="323.5" y="28.9" font-size="19.5" fill="#f23645" textLength="67.2" lengthAdjust="spacingAndGlyphs">155.069</text>
<text x="404.4" y="28.9" font-size="19.5" fill="#222222" textLength="21.7" lengthAdjust="spacingAndGlyphs">高:</text>
<text x="439.8" y="28.9" font-size="19.5" fill="#f23645" textLength="67.2" lengthAdjust="spacingAndGlyphs">155.147</text>
<text x="520.7" y="28.9" font-size="19.5" fill="#222222" textLength="21.7" lengthAdjust="spacingAndGlyphs">低:</text>
<text x="556.1" y="28.9" font-size="19.5" fill="#f23645" textLength="67.2" lengthAdjust="spacingAndGlyphs">154.910</text>
<text x="637.0" y="28.9" font-size="19.5" fill="#222222" textLength="21.7" lengthAdjust="spacingAndGlyphs">收:</text>
<text x="672.4" y="28.9" font-size="19.5" fill="#f23645" textLength="67.2" lengthAdjust="spacingAndGlyphs">154.933</text>
<defs><filter id="sh" x="-10%" y="-20%" width="120%" height="140%"><feDropShadow dx="0" dy="0.6" stdDeviation="1.7" flood-color="#000" flood-opacity="0.28"/></filter></defs>
<rect x="8" y="158.5" width="381" height="33.5" fill="#fff" opacity="0.5"/>
<rect x="11.7" y="47.6" width="290" height="93" rx="7" fill="#fff" filter="url(#sh)"/>
<path d="M18.5,51.4 H156 V100.3 H76.6 V137.1 H18.5 Q15.5,137.1 15.5,134.1 V54.4 Q15.5,51.4 18.5,51.4 Z" fill="#ffe1e3"/>
<path d="M158.5,51.4 H295.7 Q298.7,51.4 298.7,54.4 V134.1 Q298.7,137.1 295.7,137.1 H236.4 V100.3 H158.5 Z" fill="#d4fbde"/>
<text x="44.8" y="84.8" font-size="21.0" fill="#ff0a0a" font-weight="bold" textLength="81.5" lengthAdjust="spacingAndGlyphs">154.933</text>
<text x="187.5" y="84.8" font-size="21.0" fill="#05a834" font-weight="bold" textLength="81.5" lengthAdjust="spacingAndGlyphs">154.941</text>
<text x="28.0" y="126.4" font-size="18.0" fill="#ff0a0a" font-weight="bold" textLength="35.5" lengthAdjust="spacingAndGlyphs">卖出</text>
<text x="249.5" y="126.4" font-size="18.0" fill="#05a834" font-weight="bold" textLength="36.0" lengthAdjust="spacingAndGlyphs">买入</text>
<text x="157.0" y="128.0" font-size="19.5" fill="#3a3d46" text-anchor="middle">8</text>
<path d="M18.9,146.7 H258.1 V159 H18.9 A6.15,6.15 0 0 1 18.9,146.7 Z" fill="#ea2a2d"/>
<path d="M260.4,146.7 H295.2 A6.15,6.15 0 0 1 295.2,159 H260.4 Z" fill="#02b836"/>
<text x="12.7" y="183.3" font-size="19.5" fill="#222222" textLength="157.0" lengthAdjust="spacingAndGlyphs">移动平均线（MA）</text>
<text x="175.8" y="183.3" font-size="19.5" fill="#787b86" textLength="68.5" lengthAdjust="spacingAndGlyphs">100 收 0</text>
<text x="320.9" y="183.3" font-size="19.5" fill="#2196f3" textLength="68.0" lengthAdjust="spacingAndGlyphs">155.343</text>
<polygon points="272.45,175.56 274.87,175.84 274.87,178.96 272.45,179.24 271.80,180.80 273.31,182.71 271.11,184.91 269.20,183.40 267.64,184.05 267.36,186.47 264.24,186.47 263.96,184.05 262.40,183.40 260.49,184.91 258.29,182.71 259.80,180.80 259.15,179.24 256.73,178.96 256.73,175.84 259.15,175.56 259.80,174.00 258.29,172.09 260.49,169.89 262.40,171.40 263.96,170.75 264.24,168.33 267.36,168.33 267.64,170.75 269.20,171.40 271.11,169.89 273.31,172.09 271.80,174.00" fill="none" stroke="#3c3c3c" stroke-width="1.5" stroke-linejoin="round"/>
<circle cx="265.8" cy="177.4" r="3.3" fill="none" stroke="#3c3c3c" stroke-width="1.5"/>
<g fill="none" stroke="#3c3c3c" stroke-width="1.5" stroke-linejoin="round" stroke-linecap="round"><path d="M292.4,171.6 H307.9"/><path d="M296.4,171.4 L297.3,168.4 H303.1 L304,171.4"/><path d="M294.2,172 L295,184.6 Q295.1,186.2 296.7,186.2 H303.9 Q305.5,186.2 305.6,184.6 L306.6,172"/><path d="M298.7,175.6 V182 M302.1,175.6 V182"/></g>
<defs><clipPath id="fc"><circle cx="3566.5" cy="1855.9" r="17.8"/></clipPath></defs>
<circle cx="3566.5" cy="1855.9" r="19.1" fill="#e6f2fb"/>
<g clip-path="url(#fc)"><rect x="3548.7" y="1838.1" width="35.6" height="35.6" fill="#fff"/><rect x="3548.7" y="1836.80" width="35.6" height="3.00" fill="#ee1414"/><rect x="3548.7" y="1843.30" width="35.6" height="2.80" fill="#ee1414"/><rect x="3548.7" y="1849.40" width="35.6" height="2.90" fill="#ee1414"/><rect x="3548.7" y="1855.40" width="35.6" height="3.30" fill="#ee1414"/><rect x="3548.7" y="1861.80" width="35.6" height="3.30" fill="#ee1414"/><rect x="3548.7" y="1868.20" width="35.6" height="3.10" fill="#ee1414"/><rect x="3548.7" y="1838.1" width="20.5" height="20.30" fill="#2e3ba4"/><path d="M3553.2,1841.7 l1.4,-1.9 l1.4,1.9 l-1.4,1.9 z" fill="#fff"/><path d="M3558.2,1841.7 l1.4,-1.9 l1.4,1.9 l-1.4,1.9 z" fill="#fff"/><path d="M3563.2,1841.7 l1.4,-1.9 l1.4,1.9 l-1.4,1.9 z" fill="#fff"/><path d="M3568.2,1841.7 l1.4,-1.9 l1.4,1.9 l-1.4,1.9 z" fill="#fff"/><path d="M3550.7,1846.1 l1.4,-1.9 l1.4,1.9 l-1.4,1.9 z" fill="#fff"/><path d="M3555.7,1846.1 l1.4,-1.9 l1.4,1.9 l-1.4,1.9 z" fill="#fff"/><path d="M3560.7,1846.1 l1.4,-1.9 l1.4,1.9 l-1.4,1.9 z" fill="#fff"/><path d="M3565.7,1846.1 l1.4,-1.9 l1.4,1.9 l-1.4,1.9 z" fill="#fff"/><path d="M3553.2,1850.5 l1.4,-1.9 l1.4,1.9 l-1.4,1.9 z" fill="#fff"/><path d="M3558.2,1850.5 l1.4,-1.9 l1.4,1.9 l-1.4,1.9 z" fill="#fff"/><path d="M3563.2,1850.5 l1.4,-1.9 l1.4,1.9 l-1.4,1.9 z" fill="#fff"/><path d="M3568.2,1850.5 l1.4,-1.9 l1.4,1.9 l-1.4,1.9 z" fill="#fff"/><path d="M3550.7,1854.9 l1.4,-1.9 l1.4,1.9 l-1.4,1.9 z" fill="#fff"/><path d="M3555.7,1854.9 l1.4,-1.9 l1.4,1.9 l-1.4,1.9 z" fill="#fff"/><path d="M3560.7,1854.9 l1.4,-1.9 l1.4,1.9 l-1.4,1.9 z" fill="#fff"/><path d="M3565.7,1854.9 l1.4,-1.9 l1.4,1.9 l-1.4,1.9 z" fill="#fff"/></g>
<circle cx="146.6" cy="1759.5" r="61.7" fill="#0a84d6"/>
<polygon points="116.8,1724.0 176.2,1724.0 156.5,1760.0 176.2,1794.8 116.8,1794.8 136.5,1759.1" fill="#fff" stroke="#fff" stroke-width="1.5" stroke-linejoin="round"/>
<polyline points="134.9,1753.7 148.2,1737.5 143.5,1737.5" fill="none" stroke="#0a84d6" stroke-width="3.8" stroke-linecap="round" stroke-linejoin="round"/>
<polyline points="158.3,1765.6 145.1,1781.6 149.8,1781.6" fill="none" stroke="#0a84d6" stroke-width="3.8" stroke-linecap="round" stroke-linejoin="round"/>
<text y="1807.3" font-size="118" font-weight="bold" style="font-family:'DejaVu Sans','Liberation Sans',sans-serif" stroke-width="2.4" stroke-linejoin="round" x="247.8 301.3 333.7 411.5 447.2 525.4 595.9 631.4"><tspan fill="#2b2b2b" stroke="#2b2b2b">fin</tspan><tspan fill="#0a84d6" stroke="#0a84d6">logix</tspan></text>
<rect x="307.0" y="1711" width="30" height="27.5" fill="#fff"/>
<circle cx="322.0" cy="1721" r="13" fill="#2b2b2b"/>
<rect x="600.9" y="1711" width="30" height="27.5" fill="#fff"/>
<circle cx="615.9" cy="1721" r="13" fill="#0a84d6"/>
</svg></body></html>
